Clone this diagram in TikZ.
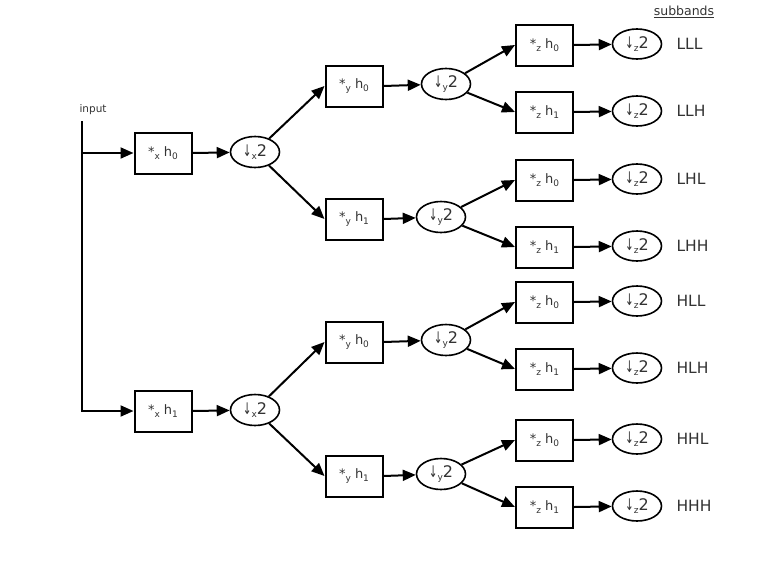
\documentclass[tikz,border=0pt]{standalone}
\usepackage{fontspec}
\setmainfont{DejaVu Sans}
\usetikzlibrary{arrows.meta,shapes.geometric}
\newcommand\sbs[1]{\raisebox{-0.4ex}{\fontsize{9}{10}\selectfont #1}}
\newcommand\dar{\scalebox{0.65}[1]{↓}}
\begin{document}
\begin{tikzpicture}[x=1pt,y=-1pt,
 filt/.style={draw,line width=2pt,minimum width=57pt,minimum height=41pt,inner sep=0pt,text=black!80,font=\fontsize{13}{15}\selectfont},
 dec/.style={draw,ellipse,line width=1.6pt,minimum width=49pt,minimum height=31pt,inner sep=0pt,text=black!80,font=\fontsize{16}{18}\selectfont},
 arr/.style={line width=2pt,-{Triangle[length=13pt,width=11pt]}},
 lbl/.style={anchor=west,text=black!80,font=\fontsize{15.5}{17}\selectfont}]
\useasboundingbox (0,0) rectangle (771,568);
% level x
\node[filt] (bx0) at (163,153) {*\sbs{x} h\sbs{0}};
\node[dec]  (ex0) at (255,152) {\dar\sbs{x}2};
\node[filt] (bx1) at (163,411) {*\sbs{x} h\sbs{1}};
\node[dec]  (ex1) at (255,410) {\dar\sbs{x}2};
% level y
\node[filt] (by00) at (354,86)  {*\sbs{y} h\sbs{0}};
\node[dec]  (ey00) at (446,84)  {\dar\sbs{y}2};
\node[filt] (by01) at (354,219) {*\sbs{y} h\sbs{1}};
\node[dec]  (ey01) at (441,217) {\dar\sbs{y}2};
\node[filt] (by10) at (354,342) {*\sbs{y} h\sbs{0}};
\node[dec]  (ey10) at (446,340) {\dar\sbs{y}2};
\node[filt] (by11) at (354,476) {*\sbs{y} h\sbs{1}};
\node[dec]  (ey11) at (441,474) {\dar\sbs{y}2};
% level z
\foreach \n/\y/\h/\lab in {1/45/0/LLL,2/112/1/LLH,3/180/0/LHL,4/247/1/LHH,5/302/0/HLL,6/369/1/HLH,7/440/0/HHL,8/507/1/HHH}{
  \node[filt] (bz\n) at (544.5,\y) {*\sbs{z} h\sbs{\h}};
  \node[dec,minimum height=30pt]  (ez\n) at (637,\y-1) {\dar\sbs{z}2};
  \node[lbl] (lab\n) at (673,\y-1) {\lab};
  \draw[arr] (bz\n.east) -- (ez\n);
}
% input
\node[anchor=south west,text=black!80,font=\fontsize{10.5}{12}\selectfont] (inp) at (76,118) {input};
\coordinate (itop) at (82,121);
\draw[arr] (itop) |- (bx1.west);
\draw[arr] (itop |- bx0.west) -- (bx0.west);
\node[text=black!80,font=\fontsize{12.5}{14}\selectfont] (sb) at (684,12) {\underline{subbands}};
% x -> y
\draw[arr] (bx0.east) -- (ex0);
\draw[arr] (bx1.east) -- (ex1);
\draw[arr] (ex0) -- (by00.west);
\draw[arr] (ex0) -- (by01.west);
\draw[arr] (ex1) -- (by10.west);
\draw[arr] (ex1) -- (by11.west);
% y -> z
\draw[arr] (by00.east) -- (ey00);
\draw[arr] (by01.east) -- (ey01);
\draw[arr] (by10.east) -- (ey10);
\draw[arr] (by11.east) -- (ey11);
\draw[arr] (ey00) -- (bz1.west);
\draw[arr] (ey00) -- (bz2.west);
\draw[arr] (ey01) -- (bz3.west);
\draw[arr] (ey01) -- (bz4.west);
\draw[arr] (ey10) -- (bz5.west);
\draw[arr] (ey10) -- (bz6.west);
\draw[arr] (ey11) -- (bz7.west);
\draw[arr] (ey11) -- (bz8.west);
\end{tikzpicture}
\end{document}
